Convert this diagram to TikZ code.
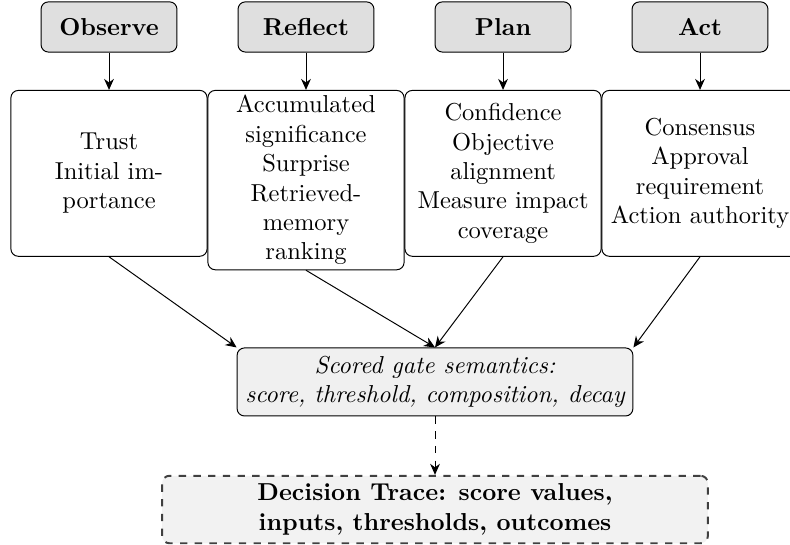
\documentclass[tikz,border=0pt]{standalone}
\usetikzlibrary{arrows.meta}

\begin{document}
\begin{tikzpicture}[
    phase/.style={rectangle, draw, rounded corners=3pt, fill=gray!25, font=\bfseries, minimum width=1.95cm, minimum height=0.72cm},
    detail/.style={rectangle, draw, rounded corners=3pt, anchor=north, text width=2.58cm, align=center, minimum height=2.38cm},
    gate/.style={rectangle, draw, rounded corners=3pt, fill=gray!12, font=\itshape, align=center},
    trace/.style={rectangle, draw, dashed, thick, draw=black!75, rounded corners=3pt, fill=gray!10, font=\bfseries, align=center, minimum width=7.83cm, minimum height=0.96cm},
    >={Stealth[length=4.5pt, width=4pt]}]
    \useasboundingbox (0, 0) rectangle (11.334, -7.805);

    \node (observe) [phase] at (1.564, -0.387) {Observe};
    \node (reflect) [phase] at (4.390, -0.387) {Reflect};
    \node (plan) [phase] at (7.217, -0.387) {Plan};
    \node (act) [phase] at (10.043, -0.387) {Act};

    \node (observe-in) [detail] at (1.564, -1.29) {Trust\\Initial importance};
    \node (reflect-in) [detail, inner ysep=2pt] at (4.390, -1.29) {Accumulated significance\\Surprise\\Retrieved-memory\\ranking};
    \node (plan-in) [detail] at (7.217, -1.29) {Confidence\\Objective alignment\\Measure impact coverage};
    \node (act-in) [detail] at (10.043, -1.29) {Consensus\\Approval requirement\\Action authority};

    \node (gate) [gate] at (6.241, -5.48) {Scored gate semantics:\\score, threshold, composition, decay};
    \node (trace) [trace] at (6.241, -7.31) {Decision Trace: score values,\\inputs, thresholds, outcomes};

    \draw[->] (observe) to (observe-in);
    \draw[->] (reflect) to (reflect-in);
    \draw[->] (plan) to (plan-in);
    \draw[->] (act) to (act-in);

    \draw[->] (observe-in.south) to (gate.north west);
    \draw[->] (reflect-in.south) to (gate.north);
    \draw[->] (plan-in.south) to (gate.north);
    \draw[->] (act-in.south) to (gate.north east);
    \draw[->, dashed] (gate) to (trace);
\end{tikzpicture}
\end{document}
